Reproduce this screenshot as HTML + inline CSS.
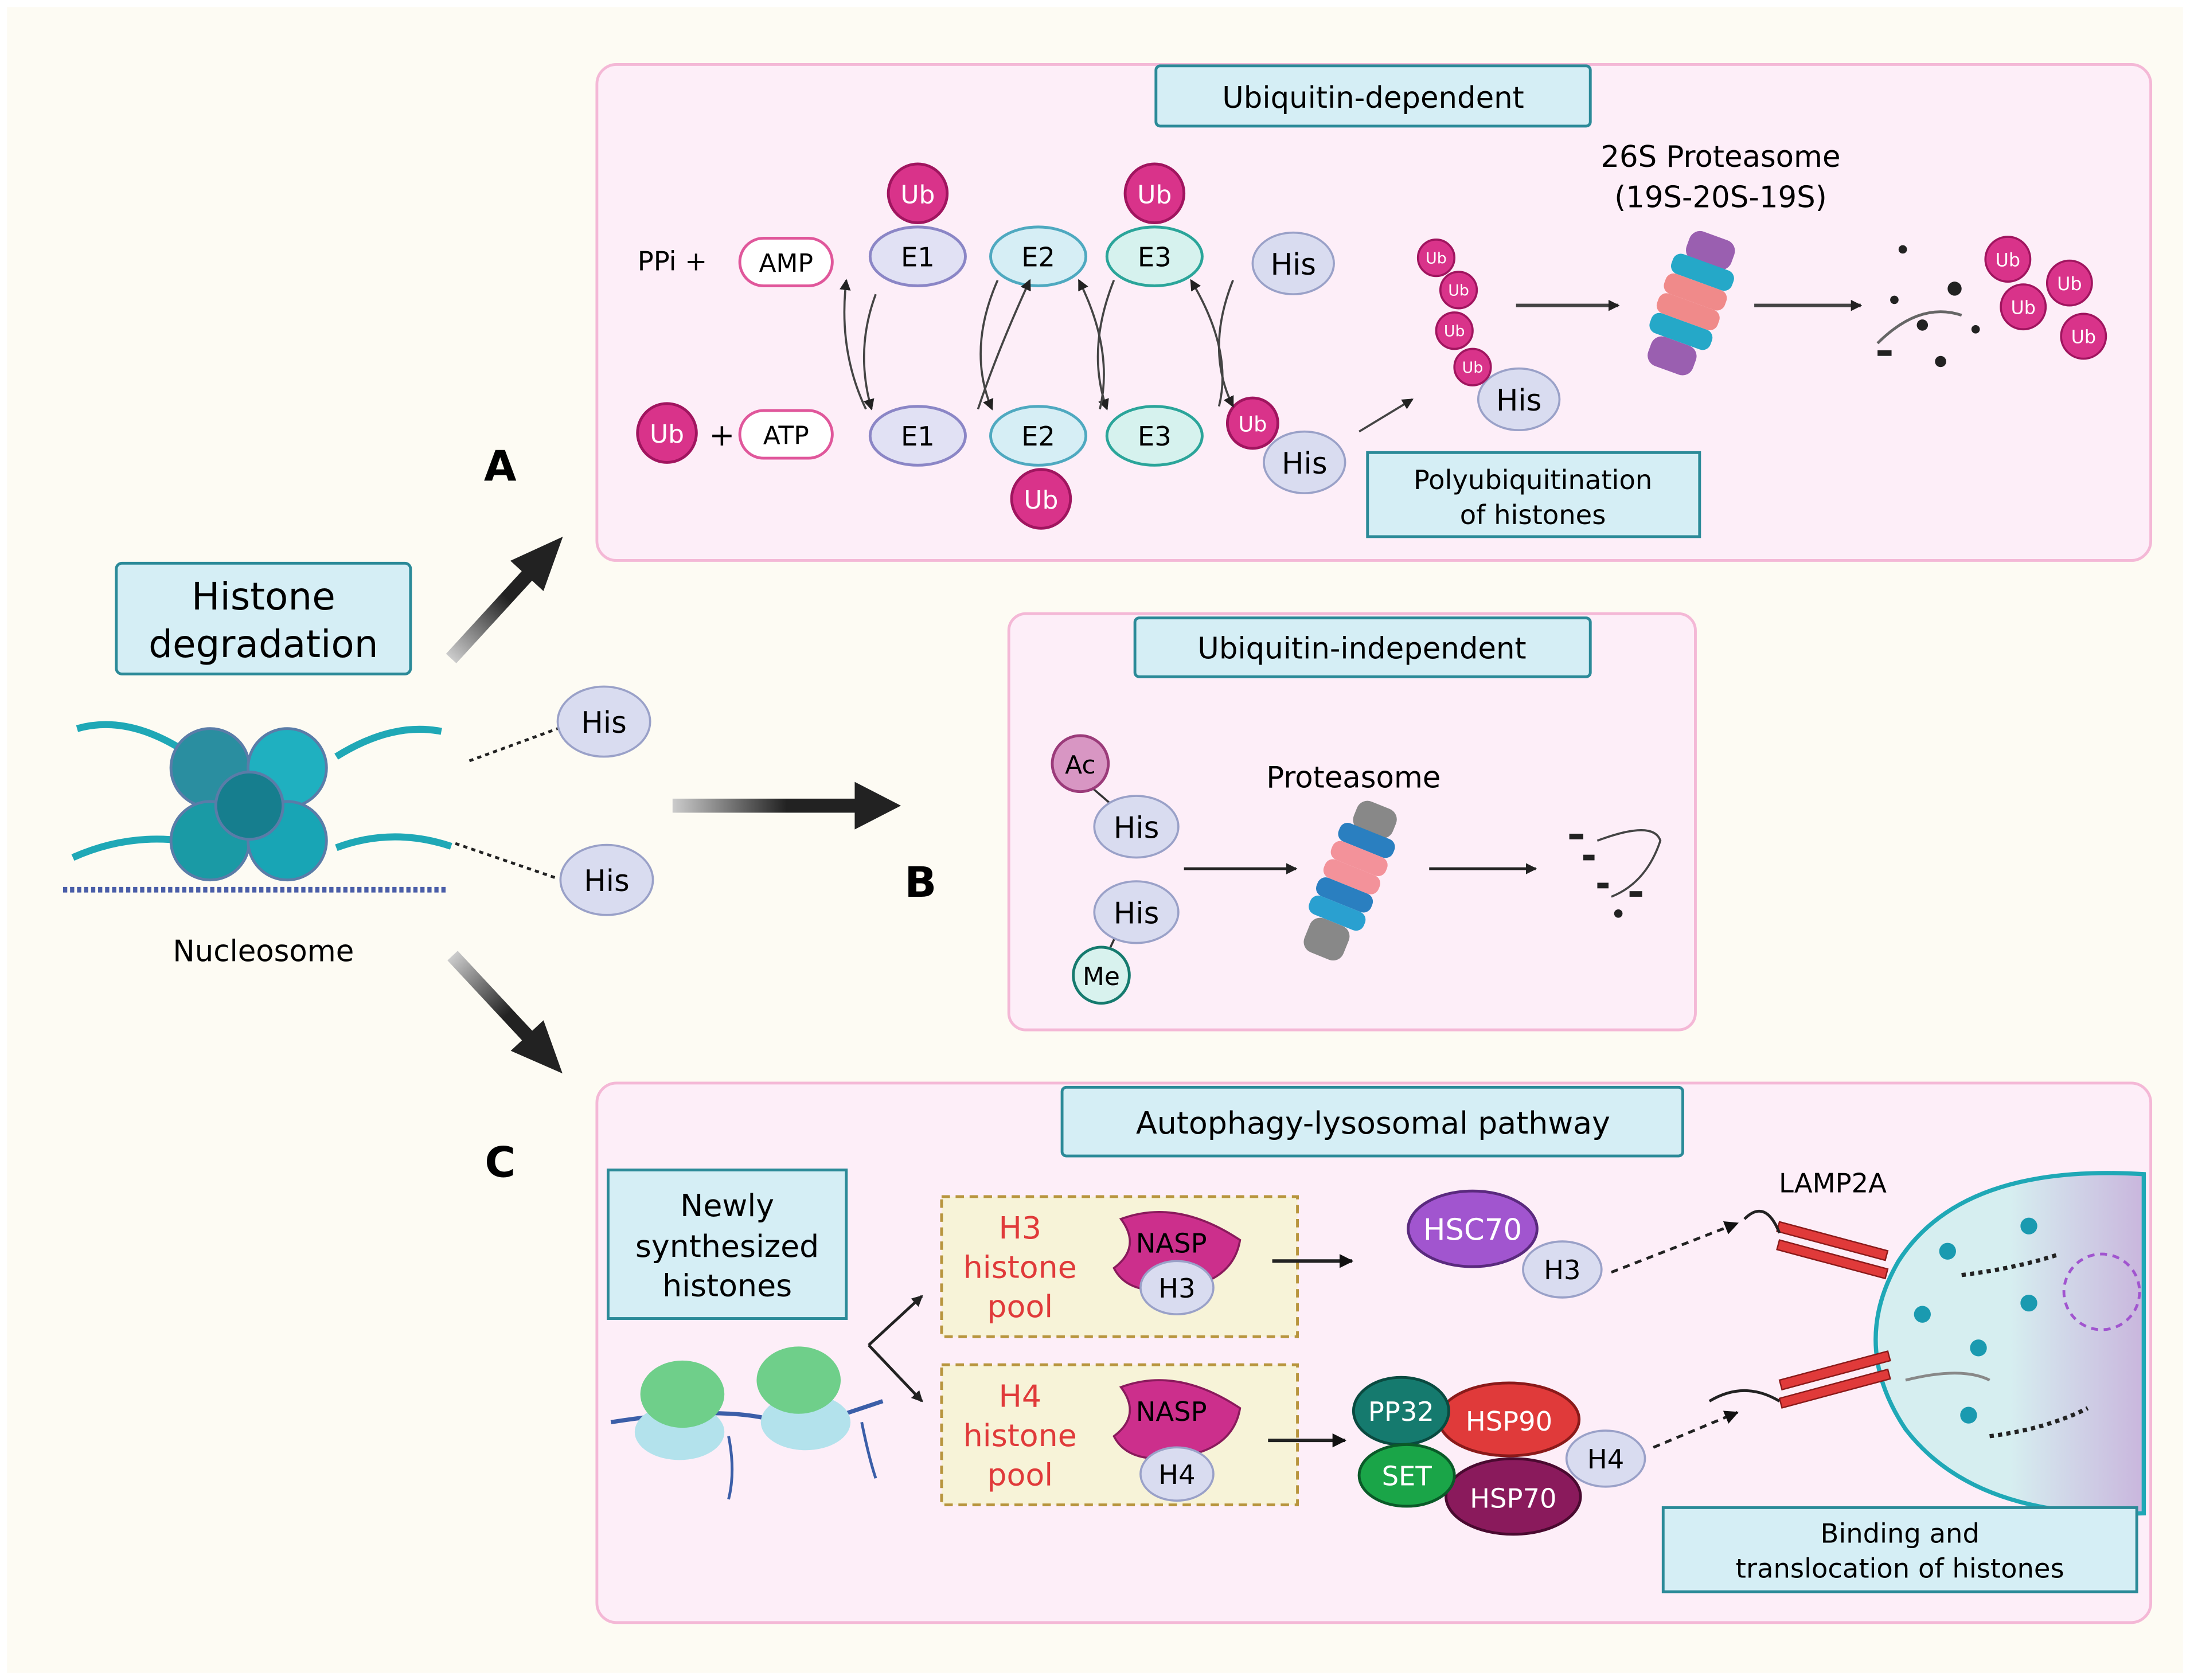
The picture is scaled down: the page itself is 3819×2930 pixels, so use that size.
<!DOCTYPE html>
<html><head><meta charset="utf-8"><style>
html,body{margin:0;padding:0;background:#fff}
svg{display:block}
text{font-family:"DejaVu Sans","Liberation Sans",sans-serif}
</style></head><body>
<svg width="3819" height="2930" viewBox="0 0 1563 1199" preserveAspectRatio="none" xmlns="http://www.w3.org/2000/svg">
<defs>
<marker id="ah" markerWidth="8" markerHeight="8" refX="7" refY="4" orient="auto" markerUnits="userSpaceOnUse"><path d="M0,0 L8,4 L0,8 Z" fill="#222"/></marker>
<marker id="ahs" markerWidth="10" markerHeight="10" refX="9" refY="5" orient="auto" markerUnits="userSpaceOnUse"><path d="M0,0 L10,5 L0,10 Z" fill="#111"/></marker>
<linearGradient id="gB" x1="0" y1="0" x2="1" y2="0"><stop offset="0" stop-color="#ccc"/><stop offset="0.5" stop-color="#222"/></linearGradient>
<linearGradient id="lys" x1="0" y1="0" x2="1" y2="0"><stop offset="0.5" stop-color="#d6eef0"/><stop offset="1" stop-color="#c9b6dd"/></linearGradient>
</defs>
<rect x="0" y="0" width="1563" height="1199" fill="#fff"/>
<rect x="5" y="5" width="1553" height="1189" fill="#fdfbf3"/>

<!-- Panel A -->
<rect x="426" y="46" width="1109" height="354" rx="14" fill="#fdeef8" stroke="#f4b8d6" stroke-width="2"/>
<rect x="825" y="47" width="310" height="43" rx="3" fill="#d5eef5" stroke="#2b8a98" stroke-width="2"/>
<text x="980" y="77" font-size="21" text-anchor="middle">Ubiquitin-dependent</text>

<text x="455" y="193" font-size="19">PPi +</text>
<rect x="528" y="170" width="66" height="34" rx="17" fill="#fff" stroke="#e0579b" stroke-width="2"/>
<text x="561" y="194" font-size="18" text-anchor="middle">AMP</text>
<circle cx="476" cy="309" r="21" fill="#d9338a" stroke="#a0155f" stroke-width="2"/>
<text x="476" y="316" font-size="18" fill="#fff" text-anchor="middle">Ub</text>
<text x="506" y="318" font-size="22">+</text>
<rect x="528" y="293" width="66" height="34" rx="17" fill="#fff" stroke="#e0579b" stroke-width="2"/>
<text x="561" y="317" font-size="18" text-anchor="middle">ATP</text>

<g font-size="19" text-anchor="middle">
<ellipse cx="655" cy="183" rx="34" ry="21" fill="#e1e1f4" stroke="#8b86c6" stroke-width="2"/><text x="655" y="190">E1</text>
<ellipse cx="741" cy="183" rx="34" ry="21" fill="#d6eef5" stroke="#4fa9c0" stroke-width="2"/><text x="741" y="190">E2</text>
<ellipse cx="824" cy="183" rx="34" ry="21" fill="#d6f2ee" stroke="#2ba59a" stroke-width="2"/><text x="824" y="190">E3</text>
<ellipse cx="655" cy="311" rx="34" ry="21" fill="#e1e1f4" stroke="#8b86c6" stroke-width="2"/><text x="655" y="318">E1</text>
<ellipse cx="741" cy="311" rx="34" ry="21" fill="#d6eef5" stroke="#4fa9c0" stroke-width="2"/><text x="741" y="318">E2</text>
<ellipse cx="824" cy="311" rx="34" ry="21" fill="#d6f2ee" stroke="#2ba59a" stroke-width="2"/><text x="824" y="318">E3</text>
</g>
<g fill="#d9338a" stroke="#a0155f" stroke-width="2">
<circle cx="655" cy="138" r="21"/><circle cx="824" cy="138" r="21"/><circle cx="743" cy="356" r="21"/><circle cx="894" cy="302" r="18"/>
</g>
<g fill="#fff" font-size="18" text-anchor="middle"><text x="655" y="145">Ub</text><text x="824" y="145">Ub</text><text x="743" y="363">Ub</text><text x="894" y="308" font-size="15">Ub</text></g>
<g fill="none" stroke="#444" stroke-width="1.5" marker-end="url(#ah)">
<path d="M618,292 Q598,250 604,200"/><path d="M625,210 Q610,250 622,292"/>
<path d="M712,200 Q690,250 708,292"/><path d="M698,292 Q712,250 735,200"/>
<path d="M795,200 Q775,250 790,292"/><path d="M785,292 Q795,250 770,200"/>
<path d="M880,200 Q860,250 880,290"/><path d="M870,290 Q880,250 850,200"/>
<path d="M970,308 L1008,285"/>
<path d="M1082,218 L1155,218" stroke-width="2.5"/>
<path d="M1252,218 L1328,218" stroke-width="2.5"/>
</g>
<g font-size="21" text-anchor="middle">
<ellipse cx="923" cy="188" rx="29" ry="22" fill="#d9dcf0" stroke="#9aa1c8" stroke-width="1.5"/><text x="923" y="196">His</text>
<ellipse cx="931" cy="330" rx="29" ry="22" fill="#d9dcf0" stroke="#9aa1c8" stroke-width="1.5"/><text x="931" y="338">His</text>
<ellipse cx="1084" cy="285" rx="29" ry="22" fill="#d9dcf0" stroke="#9aa1c8" stroke-width="1.5"/><text x="1084" y="293">His</text>
</g>
<g fill="#d9338a" stroke="#a0155f" stroke-width="1.5">
<circle cx="1025" cy="184" r="13"/><circle cx="1041" cy="207" r="13"/><circle cx="1038" cy="236" r="13"/><circle cx="1051" cy="262" r="13"/>
<circle cx="1433" cy="185" r="16"/><circle cx="1477" cy="202" r="16"/><circle cx="1444" cy="219" r="16"/><circle cx="1487" cy="240" r="16"/>
</g>
<g fill="#fff" font-size="11" text-anchor="middle"><text x="1025" y="188">Ub</text><text x="1041" y="211">Ub</text><text x="1038" y="240">Ub</text><text x="1051" y="266">Ub</text>
<text x="1433" y="190" font-size="13">Ub</text><text x="1477" y="207" font-size="13">Ub</text><text x="1444" y="224" font-size="13">Ub</text><text x="1487" y="245" font-size="13">Ub</text></g>
<text x="1228" y="119" font-size="21" text-anchor="middle">26S Proteasome</text>
<text x="1228" y="148" font-size="21" text-anchor="middle">(19S-20S-19S)</text>
<g transform="rotate(20 1205 222)">
<rect x="1188" y="165" width="34" height="22" rx="8" fill="#9a5fb0"/>
<rect x="1182" y="185" width="46" height="15" rx="6" fill="#25a8c8"/>
<rect x="1182" y="200" width="46" height="15" rx="6" fill="#f08a8a"/>
<rect x="1182" y="215" width="46" height="15" rx="6" fill="#f08a8a"/>
<rect x="1182" y="230" width="46" height="15" rx="6" fill="#25a8c8"/>
<rect x="1188" y="245" width="34" height="22" rx="8" fill="#9a5fb0"/>
</g>
<g fill="#222"><circle cx="1358" cy="178" r="3"/><circle cx="1395" cy="206" r="5"/><circle cx="1372" cy="232" r="4"/><circle cx="1385" cy="258" r="4"/><circle cx="1352" cy="214" r="3"/><rect x="1340" y="250" width="10" height="4"/><circle cx="1410" cy="235" r="3"/></g>
<path d="M1340,245 Q1370,215 1400,225" stroke="#666" stroke-width="2" fill="none"/>
<rect x="976" y="323" width="237" height="60" fill="#d5eef5" stroke="#2b8a98" stroke-width="2"/>
<text x="1094" y="349" font-size="19" text-anchor="middle">Polyubiquitination</text>
<text x="1094" y="374" font-size="19" text-anchor="middle">of histones</text>

<!-- Left -->
<text x="357" y="343" font-size="30" font-weight="bold" text-anchor="middle">A</text>
<path d="M0,-5 L80,-5 L80,-16 L118,0 L80,16 L80,5 L0,5 Z" fill="url(#gB)" transform="translate(322,470) rotate(-47.5)"/>
<rect x="83" y="402" width="210" height="79" rx="4" fill="#d5eef5" stroke="#2b8a98" stroke-width="2"/>
<text x="188" y="435" font-size="27" text-anchor="middle">Histone</text>
<text x="188" y="469" font-size="27" text-anchor="middle">degradation</text>
<!-- nucleosome -->
<path d="M55,520 Q90,510 130,535 M240,540 Q280,515 315,522" stroke="#1fa8b6" stroke-width="5" fill="none"/>
<path d="M52,612 Q90,595 130,600 M240,605 Q280,590 322,604" stroke="#1fa8b6" stroke-width="5" fill="none"/>
<g stroke="#5a7ca8" stroke-width="2">
<circle cx="150" cy="548" r="28" fill="#2a8ea0"/><circle cx="205" cy="548" r="28" fill="#1fb0c0"/>
<circle cx="150" cy="600" r="28" fill="#1a9aa5"/><circle cx="205" cy="600" r="28" fill="#18a5b5"/>
<circle cx="178" cy="575" r="24" fill="#167e8e"/>
</g>
<path d="M45,635 L318,635" stroke="#4a5ea8" stroke-width="4" stroke-dasharray="3 2"/>
<text x="188" y="686" font-size="21" text-anchor="middle">Nucleosome</text>
<path d="M335,543 L398,520 M325,602 L398,627" stroke="#222" stroke-width="2" stroke-dasharray="3 3"/>
<g font-size="21" text-anchor="middle">
<ellipse cx="431" cy="515" rx="33" ry="25" fill="#d9dcf0" stroke="#9aa1c8" stroke-width="1.5"/><text x="431" y="523">His</text>
<ellipse cx="433" cy="628" rx="33" ry="25" fill="#d9dcf0" stroke="#9aa1c8" stroke-width="1.5"/><text x="433" y="636">His</text>
</g>
<path d="M480,570 L610,570 L610,558 L643,575 L610,592 L610,580 L480,580 Z" fill="url(#gB)"/>
<text x="657" y="640" font-size="30" font-weight="bold" text-anchor="middle">B</text>
<path d="M0,-5 L78,-5 L78,-16 L115,0 L78,16 L78,5 L0,5 Z" fill="url(#gB)" transform="translate(323,682) rotate(47)"/>
<text x="357" y="840" font-size="30" font-weight="bold" text-anchor="middle">C</text>

<!-- Panel B -->
<rect x="720" y="438" width="490" height="297" rx="12" fill="#fdeef8" stroke="#f4b8d6" stroke-width="2"/>
<rect x="810" y="441" width="325" height="42" rx="3" fill="#d5eef5" stroke="#2b8a98" stroke-width="2"/>
<text x="972" y="470" font-size="21" text-anchor="middle">Ubiquitin-independent</text>
<line x1="771" y1="555" x2="800" y2="580" stroke="#333" stroke-width="1.5"/>
<line x1="800" y1="660" x2="786" y2="690" stroke="#333" stroke-width="1.5"/>
<circle cx="771" cy="545" r="20" fill="#d896c3" stroke="#9b3b7a" stroke-width="2"/><text x="771" y="552" font-size="18" text-anchor="middle">Ac</text>
<circle cx="786" cy="696" r="20" fill="#d8f2ee" stroke="#157a6e" stroke-width="2"/><text x="786" y="703" font-size="18" text-anchor="middle">Me</text>
<g font-size="21" text-anchor="middle">
<ellipse cx="811" cy="590" rx="30" ry="22" fill="#d9dcf0" stroke="#9aa1c8" stroke-width="1.5"/><text x="811" y="598">His</text>
<ellipse cx="811" cy="651" rx="30" ry="22" fill="#d9dcf0" stroke="#9aa1c8" stroke-width="1.5"/><text x="811" y="659">His</text>
</g>
<text x="966" y="562" font-size="21" text-anchor="middle">Proteasome</text>
<g transform="rotate(22 962 630)">
<rect x="948" y="570" width="30" height="22" rx="8" fill="#888"/>
<rect x="942" y="590" width="42" height="14" rx="6" fill="#2a7fc0"/>
<rect x="942" y="604" width="42" height="14" rx="6" fill="#f3929a"/>
<rect x="942" y="618" width="42" height="14" rx="6" fill="#f3929a"/>
<rect x="942" y="632" width="42" height="14" rx="6" fill="#2a7fc0"/>
<rect x="942" y="646" width="42" height="14" rx="6" fill="#2aa0d0"/>
<rect x="948" y="660" width="30" height="26" rx="8" fill="#888"/>
</g>
<g stroke="#222" stroke-width="2" marker-end="url(#ah)"><line x1="845" y1="620" x2="925" y2="620"/><line x1="1020" y1="620" x2="1096" y2="620"/></g>
<g fill="#222"><rect x="1120" y="595" width="10" height="4"/><rect x="1130" y="610" width="8" height="4"/><circle cx="1155" cy="652" r="3"/><rect x="1163" y="636" width="9" height="4"/><rect x="1140" y="630" width="8" height="4"/></g>
<path d="M1140,600 Q1180,585 1185,600 Q1175,630 1150,640" stroke="#444" stroke-width="1.5" fill="none"/>

<!-- Panel C -->
<rect x="426" y="773" width="1109" height="385" rx="14" fill="#fdeef8" stroke="#f4b8d6" stroke-width="2"/>
<rect x="758" y="776" width="443" height="49" rx="3" fill="#d5eef5" stroke="#2b8a98" stroke-width="2"/>
<text x="980" y="809" font-size="22" text-anchor="middle">Autophagy-lysosomal pathway</text>
<rect x="434" y="835" width="170" height="106" fill="#d5eef5" stroke="#2b8a98" stroke-width="2"/>
<text x="519" y="868" font-size="22" text-anchor="middle">Newly</text>
<text x="519" y="897" font-size="22" text-anchor="middle">synthesized</text>
<text x="519" y="925" font-size="22" text-anchor="middle">histones</text>
<path d="M436,1015 Q530,1000 570,1020 Q600,1010 630,1000" stroke="#3b5ea8" stroke-width="3" fill="none"/>
<ellipse cx="485" cy="1022" rx="32" ry="20" fill="#b3e2ec"/><ellipse cx="487" cy="995" rx="30" ry="24" fill="#6fcf8a"/>
<ellipse cx="575" cy="1015" rx="32" ry="20" fill="#b3e2ec"/><ellipse cx="570" cy="985" rx="30" ry="24" fill="#6fcf8a"/>
<path d="M520,1025 Q525,1050 520,1070 M615,1015 Q620,1040 625,1055" stroke="#3b5ea8" stroke-width="2" fill="none"/>
<g stroke="#222" stroke-width="2" fill="none" marker-end="url(#ah)"><path d="M620,960 L658,925"/><path d="M620,960 L658,1000"/></g>
<rect x="672" y="854" width="254" height="100" fill="#f7f3d8" stroke="#b8953e" stroke-width="2" stroke-dasharray="6 4"/>
<rect x="672" y="974" width="254" height="100" fill="#f7f3d8" stroke="#b8953e" stroke-width="2" stroke-dasharray="6 4"/>
<g fill="#e03a3a" font-size="22" text-anchor="middle">
<text x="728" y="884">H3</text><text x="728" y="912">histone</text><text x="728" y="940">pool</text>
<text x="728" y="1004">H4</text><text x="728" y="1032">histone</text><text x="728" y="1060">pool</text>
</g>
<path d="M800,870 Q840,855 885,885 Q880,915 840,920 Q805,925 795,905 Q815,890 800,870Z" fill="#cc2f8c" stroke="#8a1a5c" stroke-width="1.5"/>
<path d="M800,990 Q840,975 885,1005 Q880,1035 840,1040 Q805,1045 795,1025 Q815,1010 800,990Z" fill="#cc2f8c" stroke="#8a1a5c" stroke-width="1.5"/>
<text x="836" y="894" font-size="19" text-anchor="middle">NASP</text>
<text x="836" y="1014" font-size="19" text-anchor="middle">NASP</text>
<g font-size="19" text-anchor="middle">
<ellipse cx="840" cy="919" rx="26" ry="19" fill="#d9dcf0" stroke="#9aa1c8" stroke-width="1.5"/><text x="840" y="926">H3</text>
<ellipse cx="840" cy="1052" rx="26" ry="19" fill="#d9dcf0" stroke="#9aa1c8" stroke-width="1.5"/><text x="840" y="1059">H4</text>
</g>
<g stroke="#222" stroke-width="2.5" marker-end="url(#ahs)"><line x1="908" y1="900" x2="965" y2="900"/><line x1="905" y1="1028" x2="960" y2="1028"/></g>
<ellipse cx="1051" cy="877" rx="46" ry="27" fill="#a155cf" stroke="#5a2a7e" stroke-width="2"/>
<text x="1051" y="885" font-size="21" fill="#fff" text-anchor="middle">HSC70</text>
<ellipse cx="1115" cy="906" rx="28" ry="20" fill="#d9dcf0" stroke="#9aa1c8" stroke-width="1.5"/><text x="1115" y="913" font-size="19" text-anchor="middle">H3</text>
<ellipse cx="1077" cy="1013" rx="50" ry="26" fill="#e03a3a" stroke="#8a1a1a" stroke-width="2"/>
<ellipse cx="1080" cy="1068" rx="48" ry="27" fill="#8a1a5c" stroke="#4a0a30" stroke-width="2"/>
<ellipse cx="1000" cy="1007" rx="34" ry="24" fill="#157a6e" stroke="#0a4a40" stroke-width="2"/>
<ellipse cx="1004" cy="1053" rx="34" ry="22" fill="#1aa548" stroke="#0a5a28" stroke-width="2"/>
<g fill="#fff" font-size="19" text-anchor="middle"><text x="1077" y="1021">HSP90</text><text x="1080" y="1076">HSP70</text><text x="1000" y="1014">PP32</text><text x="1004" y="1060">SET</text></g>
<ellipse cx="1146" cy="1041" rx="28" ry="20" fill="#d9dcf0" stroke="#9aa1c8" stroke-width="1.5"/><text x="1146" y="1048" font-size="19" text-anchor="middle">H4</text>
<g stroke="#222" stroke-width="2" stroke-dasharray="5 4" marker-end="url(#ahs)"><line x1="1150" y1="908" x2="1240" y2="873"/><line x1="1180" y1="1033" x2="1240" y2="1008"/></g>
<path d="M1530,838 Q1400,830 1355,900 Q1320,960 1360,1020 Q1410,1085 1530,1080 Z" fill="url(#lys)" stroke="#1fa8b6" stroke-width="3"/>
<circle cx="1500" cy="922" r="27" fill="none" stroke="#a155cf" stroke-width="2" stroke-dasharray="5 4"/>
<g fill="#1a9ab0"><circle cx="1390" cy="893" r="6"/><circle cx="1448" cy="875" r="6"/><circle cx="1372" cy="938" r="6"/><circle cx="1448" cy="930" r="6"/><circle cx="1412" cy="962" r="6"/><circle cx="1405" cy="1010" r="6"/></g>
<path d="M1400,910 Q1440,905 1470,895 M1420,1025 Q1460,1020 1490,1005" stroke="#222" stroke-width="3" stroke-dasharray="3 3" fill="none"/>
<path d="M1360,985 Q1400,975 1420,985" stroke="#888" stroke-width="2" fill="none"/>
<text x="1308" y="851" font-size="19" text-anchor="middle">LAMP2A</text>
<g fill="#e03a3a" stroke="#8a1a1a" stroke-width="1"><rect x="1270" y="872" width="80" height="7" transform="rotate(15 1270 872)"/><rect x="1270" y="885" width="80" height="7" transform="rotate(15 1270 885)"/>
<rect x="1270" y="985" width="80" height="7" transform="rotate(-15 1270 985)"/><rect x="1270" y="998" width="80" height="7" transform="rotate(-15 1270 998)"/></g>
<path d="M1245,870 Q1260,855 1270,880 M1220,1000 Q1245,985 1270,1000" stroke="#222" stroke-width="2" fill="none"/>
<rect x="1187" y="1076" width="338" height="60" fill="#d5eef5" stroke="#2b8a98" stroke-width="2"/>
<text x="1356" y="1101" font-size="19" text-anchor="middle">Binding and</text>
<text x="1356" y="1126" font-size="19" text-anchor="middle">translocation of histones</text>
</svg>
</body></html>
